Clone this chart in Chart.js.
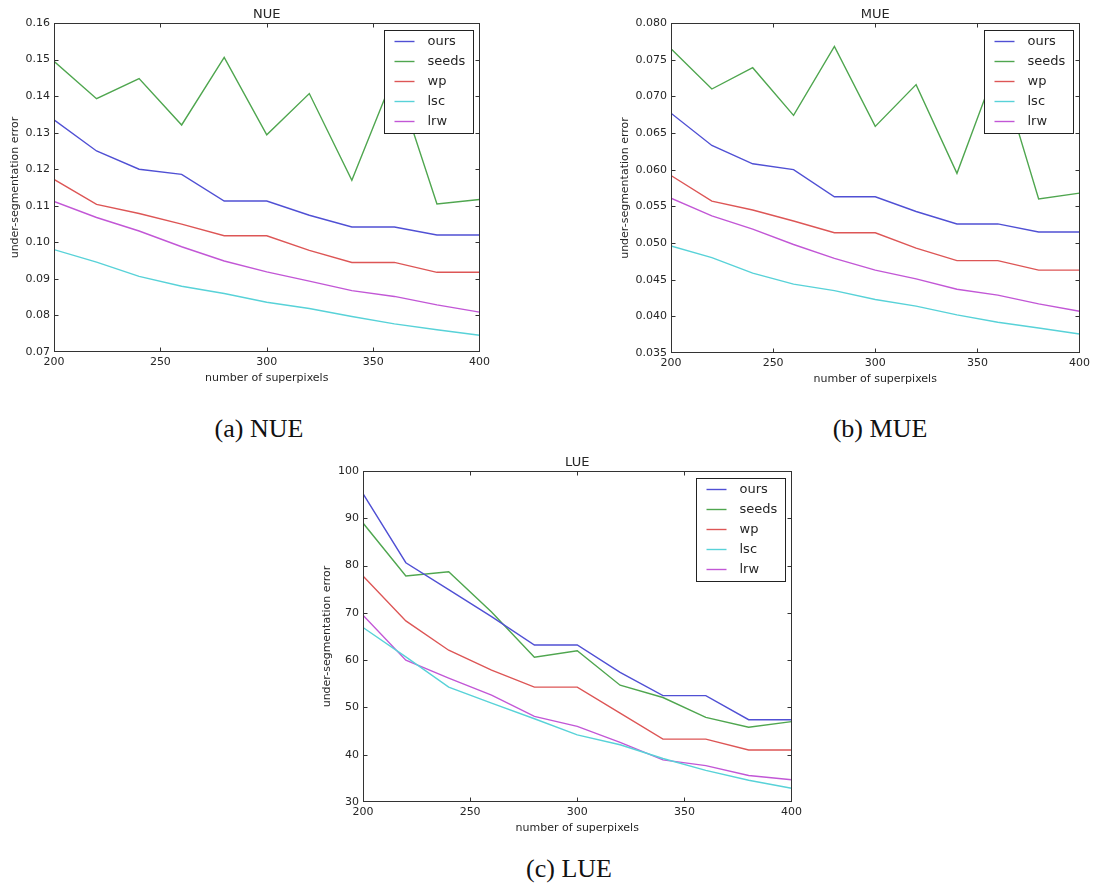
<!DOCTYPE html>
<html>
<head>
<meta charset="utf-8">
<script src="https://cdn.jsdelivr.net/npm/chart.js@4"></script>
<style>
  body { margin: 0; background: #fff; width: 1114px; height: 883px; overflow: hidden; position: relative; }
  canvas { position: absolute; }
  .cap { position: absolute; width: 200px; text-align: center; font: 26px 'Liberation Serif', 'Times New Roman', serif; line-height: 30px; color: #111; }
</style>
</head>
<body>
<canvas id="nue" width="494" height="390" style="left:0px;top:0px"></canvas>
<canvas id="mue" width="484" height="391" style="left:610px;top:0px"></canvas>
<canvas id="lue" width="494" height="392" style="left:312px;top:448px"></canvas>
<div class="cap" style="left:159px;top:414px">(a) NUE</div>
<div class="cap" style="left:780px;top:414px">(b) MUE</div>
<div class="cap" style="left:469px;top:854px">(c) LUE</div>
<script>
// x values (number of superpixels)
const xs = [200, 220, 240, 260, 280, 300, 320, 340, 360, 380, 400];
const names = ['ours', 'seeds', 'wp', 'lsc', 'lrw'];
const colors = ['#5050d4', '#4fa64f', '#dd5656', '#58d2d8', '#c257d6'];

// NUE
const nueOurs  = [0.1335, 0.1250, 0.1200, 0.1186, 0.1113, 0.1113, 0.1074, 0.1042, 0.1042, 0.1020, 0.1020];
const nueSeeds = [0.1495, 0.1393, 0.1448, 0.1321, 0.1506, 0.1294, 0.1407, 0.1170, 0.1460, 0.1105, 0.1117];
const nueWp    = [0.1172, 0.1104, 0.1079, 0.1050, 0.1018, 0.1018, 0.0978, 0.0945, 0.0945, 0.0918, 0.0918];
const nueLsc   = [0.0980, 0.0946, 0.0907, 0.0880, 0.0860, 0.0836, 0.0819, 0.0797, 0.0777, 0.0761, 0.0746];
const nueLrw   = [0.1112, 0.1068, 0.1031, 0.0988, 0.0949, 0.0919, 0.0894, 0.0868, 0.0852, 0.0829, 0.0809];

// MUE
const mueOurs  = [0.0677, 0.0633, 0.0608, 0.0600, 0.0563, 0.0563, 0.0543, 0.0526, 0.0526, 0.0515, 0.0515];
const mueSeeds = [0.0765, 0.0710, 0.0739, 0.0674, 0.0768, 0.0659, 0.0716, 0.0595, 0.0745, 0.0560, 0.0568];
const mueWp    = [0.0592, 0.0557, 0.0545, 0.0530, 0.0514, 0.0514, 0.0493, 0.0476, 0.0476, 0.0463, 0.0463];
const mueLsc   = [0.0496, 0.0480, 0.0459, 0.0444, 0.0435, 0.0423, 0.0414, 0.0402, 0.0392, 0.0384, 0.0376];
const mueLrw   = [0.0561, 0.0537, 0.0519, 0.0498, 0.0479, 0.0463, 0.0451, 0.0437, 0.0429, 0.0417, 0.0407];

// LUE
const lueOurs  = [95.2, 80.6, 74.9, 69.2, 63.2, 63.2, 57.4, 52.5, 52.5, 47.4, 47.4];
const lueSeeds = [89.0, 77.8, 78.7, 70.2, 60.6, 62.0, 54.7, 52.1, 47.9, 45.8, 47.0];
const lueWp    = [77.8, 68.3, 62.1, 57.9, 54.3, 54.3, 48.8, 43.3, 43.3, 41.0, 41.0];
const lueLsc   = [66.9, 60.7, 54.3, 50.9, 47.6, 44.2, 42.1, 39.2, 36.7, 34.6, 32.9];
const lueLrw   = [69.5, 60.0, 56.2, 52.6, 48.1, 46.0, 42.6, 38.9, 37.7, 35.6, 34.7];

const textColor = '#262626';
const fontFamily = "'DejaVu Sans', sans-serif";

// frame, inward ticks and an opaque legend inside the plot
const framePlugin = {
  id: 'frame',
  afterDatasetsDraw(chart) {
    const ctx = chart.ctx;
    const a = chart.chartArea;
    const L = Math.round(a.left) + 0.5, R = Math.round(a.right) - 0.5;
    const T = Math.round(a.top) + 0.5, B = Math.round(a.bottom) - 0.5;
    ctx.save();
    ctx.strokeStyle = '#333';
    ctx.lineWidth = 1;
    ctx.strokeRect(L, T, R - L, B - T);
    const tl = 4;
    ctx.beginPath();
    chart.scales.x.ticks.forEach(t => {
      const px = Math.round(chart.scales.x.getPixelForValue(t.value)) + 0.5;
      if (px <= L + 1 || px >= R - 1) return;
      ctx.moveTo(px, B); ctx.lineTo(px, B - tl);
      ctx.moveTo(px, T); ctx.lineTo(px, T + tl);
    });
    chart.scales.y.ticks.forEach(t => {
      const py = Math.round(chart.scales.y.getPixelForValue(t.value)) + 0.5;
      if (py <= T + 1 || py >= B - 1) return;
      ctx.moveTo(L, py); ctx.lineTo(L + tl, py);
      ctx.moveTo(R, py); ctx.lineTo(R - tl, py);
    });
    ctx.stroke();

    // legend
    ctx.font = '13px ' + fontFamily;
    const ds = chart.data.datasets;
    const maxW = Math.max(...ds.map(d => ctx.measureText(d.label).width));
    const w = Math.round(43 + maxW + 8);
    const rowH = 20;
    const h = 11 + rowH * (ds.length - 1) + 12;
    const left = Math.round(a.right - 7 - w) + 0.5;
    const top = Math.round(a.top + 7) + 0.5;
    ctx.fillStyle = '#fff';
    ctx.fillRect(left, top, w, h);
    ctx.strokeStyle = '#222';
    ctx.strokeRect(left, top, w, h);
    ctx.textBaseline = 'middle';
    ds.forEach((d, i) => {
      const cy = top + 11 + i * rowH;
      ctx.strokeStyle = d.borderColor;
      ctx.lineWidth = 1.4;
      ctx.beginPath();
      ctx.moveTo(left + 10, cy); ctx.lineTo(left + 30, cy);
      ctx.stroke();
      ctx.fillStyle = textColor;
      ctx.fillText(d.label, left + 43, cy);
    });
    ctx.restore();
  }
};

function makeChart(id, title, series, yMin, yMax, yStep, decimals, yAxisWidth) {
  return new Chart(document.getElementById(id), {
    type: 'line',
    data: {
      datasets: series.map((vals, i) => ({
        label: names[i],
        data: xs.map((x, j) => ({ x: x, y: vals[j] })),
        borderColor: colors[i],
        borderWidth: 1.4,
        pointRadius: 0,
        fill: false,
        tension: 0
      }))
    },
    options: {
      responsive: false,
      animation: false,
      devicePixelRatio: 1,
      layout: { padding: { left: 0, right: 10, top: 0, bottom: 3 } },
      plugins: {
        legend: { display: false },
        tooltip: { enabled: false },
        title: {
          display: true,
          text: title,
          fullSize: false,
          color: textColor,
          font: { family: fontFamily, size: 13, weight: 'normal' },
          padding: { top: 6.5, bottom: 0.9 }
        }
      },
      scales: {
        x: {
          type: 'linear',
          min: 200,
          max: 400,
          grid: { display: false, drawTicks: false },
          border: { display: false },
          ticks: { stepSize: 50, padding: 4, color: textColor, font: { family: fontFamily, size: 11 } },
          title: {
            display: true,
            text: 'number of superpixels',
            color: textColor,
            font: { family: fontFamily, size: 11 },
            padding: { top: 0, bottom: 2.7 }
          },
          afterFit: s => { s.height = 35; }
        },
        y: {
          min: yMin,
          max: yMax,
          grid: { display: false, drawTicks: false },
          border: { display: false },
          ticks: {
            stepSize: yStep,
            padding: 4,
            color: textColor,
            font: { family: fontFamily, size: 11 },
            callback: v => v.toFixed(decimals)
          },
          title: {
            display: true,
            text: 'under-segmentation error',
            color: textColor,
            font: { family: fontFamily, size: 11 },
            padding: { top: 8.4, bottom: 0 }
          },
          afterFit: s => { s.width = yAxisWidth; }
        }
      }
    },
    plugins: [framePlugin]
  });
}

makeChart('nue', 'NUE', [nueOurs, nueSeeds, nueWp, nueLsc, nueLrw], 0.07, 0.16, 0.01, 2, 54);
makeChart('mue', 'MUE', [mueOurs, mueSeeds, mueWp, mueLsc, mueLrw], 0.035, 0.08, 0.005, 3, 61);
makeChart('lue', 'LUE', [lueOurs, lueSeeds, lueWp, lueLsc, lueLrw], 30, 100, 10, 0, 51);
</script>
</body>
</html>
